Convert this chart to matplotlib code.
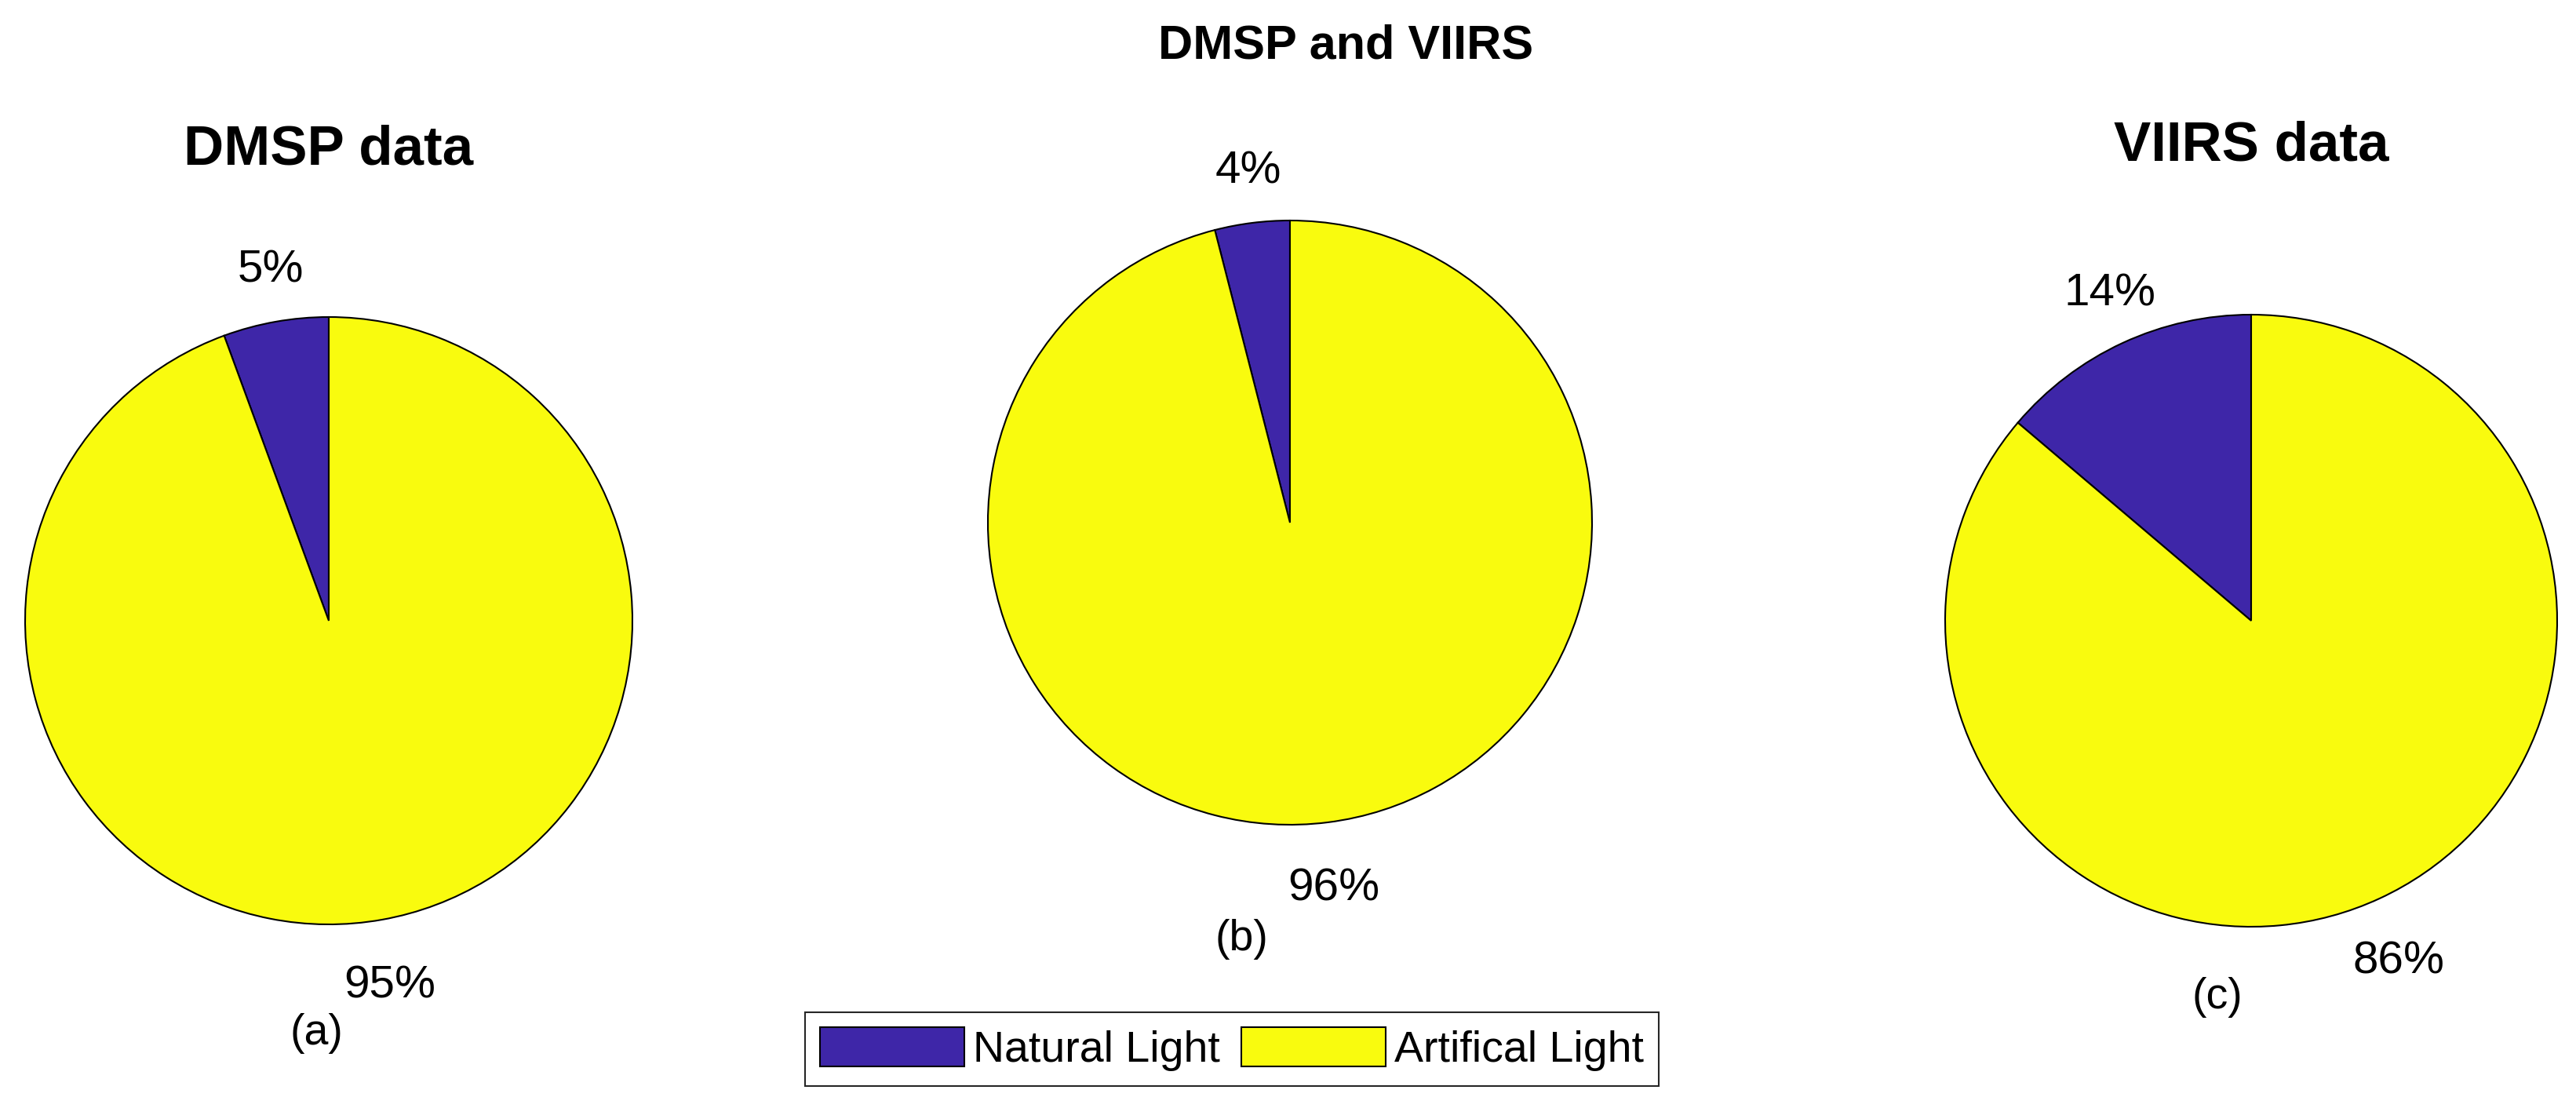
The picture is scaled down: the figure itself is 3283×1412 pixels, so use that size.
import numpy as np
import matplotlib
matplotlib.use("Agg")
import matplotlib.pyplot as plt

# data
labels = ["Natural Light", "Artifical Light"]
dmsp = [5.6, 94.4]
both = [4.0, 96.0]
viirs = [13.8, 86.2]
pct_dmsp = ["5%", "95%"]
pct_both = ["4%", "96%"]
pct_viirs = ["14%", "86%"]
colors = ["#3E26A8", "#F9FB0E"]

plt.rcParams["font.family"] = ["Liberation Sans", "DejaVu Sans"]

W, H = 3283, 1412
fig = plt.figure(figsize=(W / 100, H / 100), dpi=100)


def pie_axes(cx, cy, r, lim=1.45):
    s = 2 * lim * r
    ax = fig.add_axes([(cx - lim * r) / W, 1 - (cy + lim * r) / H, s / W, s / H])
    return ax, lim


def draw(ax, lim, vals, pcts, title, sub, sub_xy):
    wedges, _ = ax.pie(vals, colors=colors, startangle=90, counterclock=True,
                       wedgeprops=dict(edgecolor="black", linewidth=1.5))
    ax.set_xlim(-lim, lim)
    ax.set_ylim(-lim, lim)
    ax.set_aspect("equal")
    ax.axis("off")
    for w, t in zip(wedges, pcts):
        a = np.deg2rad((w.theta1 + w.theta2) / 2)
        top = np.sin(a) > 0
        d = 1.1 if top else 1.15
        ax.text(d * np.cos(a), d * np.sin(a), t, ha="center",
                va="bottom" if top else "top", fontsize=42)
    if title:
        ax.text(0, 1.55, title, ha="center", va="center", fontsize=51, fontweight="bold")
    ax.text(sub_xy[0], sub_xy[1], sub, ha="center", va="center", fontsize=40)
    return wedges


ax1, l1 = pie_axes(419, 791, 387)
w1 = draw(ax1, l1, dmsp, pct_dmsp, "DMSP data", "(a)", (-0.04, -1.36))
ax2, l2 = pie_axes(1644, 666, 385)
draw(ax2, l2, both, pct_both, None, "(b)", (-0.16, -1.38))
ax3, l3 = pie_axes(2869, 791, 390)
draw(ax3, l3, viirs, pct_viirs, "VIIRS data", "(c)", (-0.11, -1.23))

fig.text(1715 / W, 1 - 59 / H, "DMSP and VIIRS", ha="center", va="center",
         fontsize=44, fontweight="bold")

leg = fig.legend(w1, labels, loc="center", bbox_to_anchor=(1570 / W, 1 - 1337 / H),
                 ncol=2, fancybox=False, edgecolor="#262626", framealpha=1,
                 prop=dict(size=40),
                 handlelength=3.3, handleheight=1.0, handletextpad=0.2,
                 columnspacing=0.5, borderpad=0.35, borderaxespad=0)
leg.get_frame().set_linewidth(1.5)

fig.savefig("out.png", dpi=100)
